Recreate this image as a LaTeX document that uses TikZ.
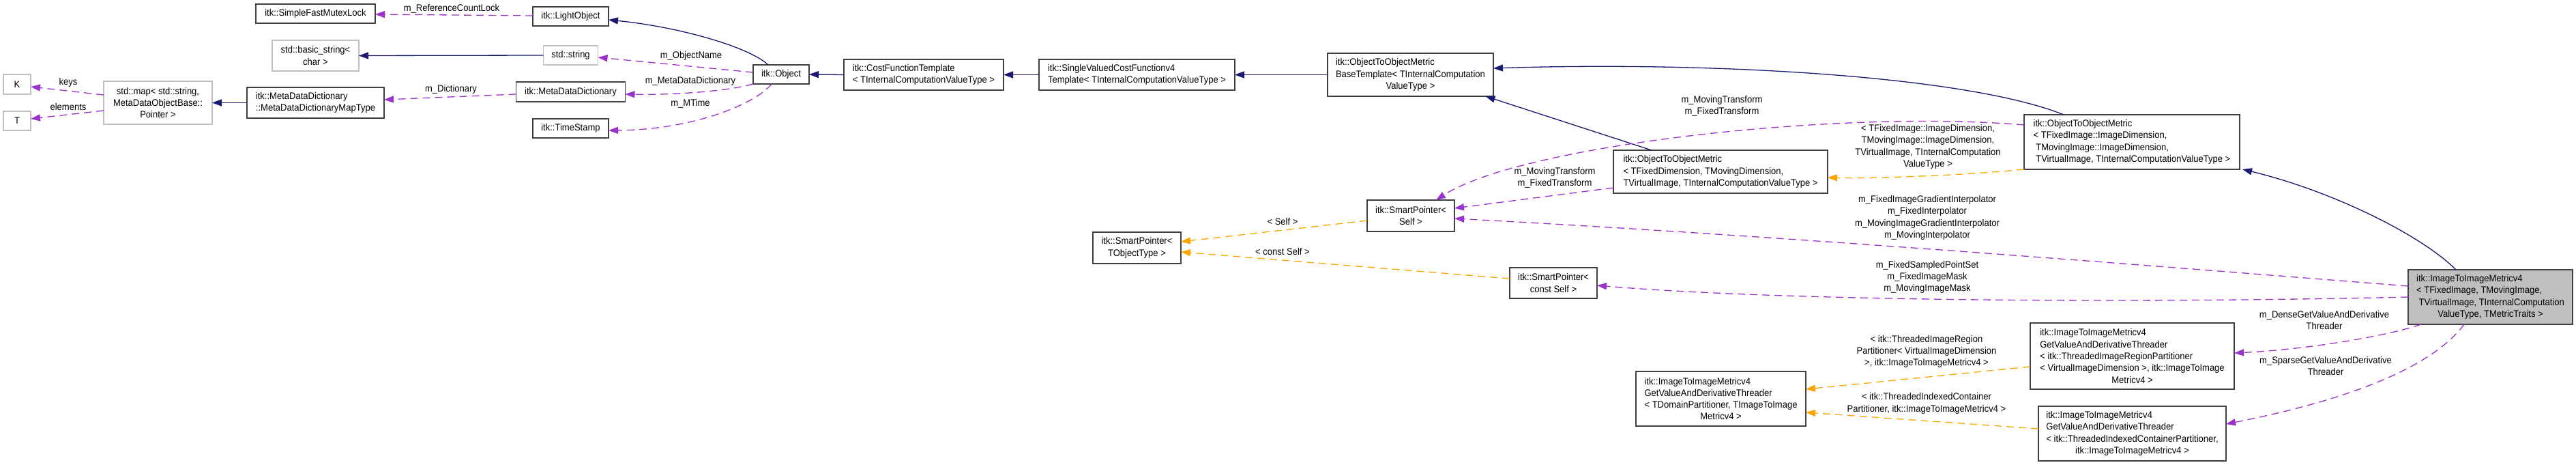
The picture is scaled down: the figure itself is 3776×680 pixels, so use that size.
\documentclass[tikz,border=0pt]{standalone}
\usepackage{fontspec}
\setmainfont{Liberation Sans}[FakeStretch=0.93]
\usetikzlibrary{arrows.meta, positioning}

\definecolor{edgeblue}{HTML}{191970}
\definecolor{edgepurple}{HTML}{9A32CD}
\definecolor{edgeorange}{HTML}{FFA500}
\definecolor{boxgray}{HTML}{BFBFBF}
\definecolor{boxline}{HTML}{404040}
\newcommand{\ctrline}[1]{\hfill#1\hfill\null}

\begin{document}
\begin{tikzpicture}[x=1pt, y=-1pt, font={\fontsize{14}{17.3}\selectfont},
    block/.style={draw=boxline, line width=1.6pt, fill=white, rectangle, inner sep=2pt, outer sep=0pt, align=left},
    extblock/.style={block, draw=boxgray},
    mainblock/.style={block, fill=boxgray},
    elabel/.style={align=center, inner sep=0pt},
    inherit/.style={draw=edgeblue, line width=1.3pt, -{Triangle[length=14pt, width=10pt]}},
    member/.style={draw=edgepurple, line width=1.3pt, dash pattern=on 11pt off 7pt, -{Triangle[length=14pt, width=10pt]}},
    tmpl/.style={member, draw=edgeorange}]

    \path[fill=white, use as bounding box] (0,0) rectangle (3776,680);

    % std containers
    \node[extblock, minimum width=40pt, minimum height=29pt, align=center] (K) at (25,123.5) {K};
    \node[extblock, minimum width=40pt, minimum height=28pt, align=center, below=25pt of K] (T) {T};
    \node[extblock, minimum width=159pt, minimum height=63pt, align=center] (stdmap) at (231.5,150.5) {std::map< std::string,\\ MetaDataObjectBase::\\ Pointer >};

    % second column
    \node[block, minimum width=175pt, minimum height=28pt] (mutexlock) at (462.5,20) {itk::SimpleFastMutexLock};
    \node[extblock, minimum width=127pt, minimum height=45pt, align=center] (basicstring) at (462.5,81.5) {std::basic\_string<\\ char >};
    \node[block, minimum width=201pt, minimum height=45pt] (maptype) at (462.5,150.5) {itk::MetaDataDictionary\\ ::MetaDataDictionaryMapType};

    % members of itk::Object
    \node[block, minimum width=111pt, minimum height=28pt] (lightobject) at (836.5,24) {itk::LightObject};
    \node[extblock, minimum width=80pt, minimum height=28pt, below=29pt of lightobject] (stdstring) {std::string};
    \node[block, minimum width=160pt, minimum height=29pt, below=25pt of stdstring] (dictionary) {itk::MetaDataDictionary};
    \node[block, minimum width=111pt, minimum height=28pt, below=25pt of dictionary] (timestamp) {itk::TimeStamp};

    % base classes
    \node[block, minimum width=82pt, minimum height=28pt] (object) at (1145,109) {itk::Object};
    \node[block, minimum width=234pt, minimum height=45pt] (costfunction) at (1354,109.5) {itk::CostFunctionTemplate\\ < TInternalComputationValueType >};
    \node[block, minimum width=287pt, minimum height=45pt] (singlevalued) at (1666.5,109.5) {itk::SingleValuedCostFunctionv4\\ Template< TInternalComputationValueType >};
    \node[block, minimum width=243pt, minimum height=63pt] (metricbase) at (2067.5,109.5) {itk::ObjectToObjectMetric\\ BaseTemplate< TInternalComputation\\ \ctrline{ValueType >}};

    % smart pointers
    \node[block, minimum width=129pt, minimum height=46pt, align=center] (ptrobject) at (1666.5,363) {itk::SmartPointer<\\ TObjectType >};
    \node[block, minimum width=128pt, minimum height=46pt, align=center] (ptrself) at (2068,316) {itk::SmartPointer<\\ Self >};
    \node[block, minimum width=128pt, minimum height=45pt, align=center] (ptrconst) at (2277,414.5) {itk::SmartPointer<\\ const Self >};

    % object to object metrics
    \node[block, minimum width=314pt, minimum height=63pt] (metricdim) at (2522,251.5) {itk::ObjectToObjectMetric\\ < TFixedDimension, TMovingDimension,\\ \ctrline{TVirtualImage, TInternalComputationValueType >}};
    \node[block, minimum width=316pt, minimum height=80pt] (metricimage) at (3125,208) {itk::ObjectToObjectMetric\\ < TFixedImage::ImageDimension,\\ \ TMovingImage::ImageDimension,\\ \ TVirtualImage, TInternalComputationValueType >};

    % threaders
    \node[block, minimum width=249pt, minimum height=80pt] (threader) at (2522.5,584) {itk::ImageToImageMetricv4\\ GetValueAndDerivativeThreader\\ < TDomainPartitioner, TImageToImage\\ \ctrline{Metricv4 >}};
    \node[block, minimum width=299pt, minimum height=97pt] (regionthreader) at (3125.5,521.5) {itk::ImageToImageMetricv4\\ GetValueAndDerivativeThreader\\ < itk::ThreadedImageRegionPartitioner\\ < VirtualImageDimension >, itk::ImageToImage\\ \ctrline{Metricv4 >}};
    \node[block, minimum width=275pt, minimum height=80pt, below=25pt of regionthreader] (indexedthreader) {itk::ImageToImageMetricv4\\ GetValueAndDerivativeThreader\\ < itk::ThreadedIndexedContainerPartitioner,\\ \ctrline{itk::ImageToImageMetricv4 >}};

    % the class itself
    \node[mainblock, minimum width=241pt, minimum height=80pt] (imagemetric) at (3650.5,435) {itk::ImageToImageMetricv4\\ < TFixedImage, TMovingImage,\\ \ TVirtualImage, TInternalComputation\\ \ctrline{ValueType, TMetricTraits >}};

    % inheritance
    \draw[inherit] (maptype.west) -- (stdmap.east);
    \draw[inherit] (stdstring.west) -- (basicstring.east);
    \draw[inherit] ([xshift=-19pt]object.north) .. controls (1100,70) and (1000,40) .. ([yshift=-5pt]lightobject.east);
    \draw[inherit] (costfunction.west) -- (object.east);
    \draw[inherit] (singlevalued.west) -- (costfunction.east);
    \draw[inherit] (metricbase.west) -- (singlevalued.east);
    \draw[inherit] ([xshift=-101pt]metricdim.north) -- ([xshift=110pt]metricbase.south);
    \draw[inherit] ([xshift=-100pt]metricimage.north) .. controls (2880,110) and (2500,90) .. ([yshift=9.5pt]metricbase.east);
    \draw[inherit] ([xshift=-50.5pt]imagemetric.north) .. controls (3550,345) and (3420,280) .. ([xshift=4pt]metricimage.south east);

    % members
    \draw[member] ([yshift=11.5pt]stdmap.west) -- ([yshift=-3.5pt]K.east) node[elabel] (lkeys) at (100,121) {keys};
    \draw[member] ([yshift=-11.5pt]stdmap.west) -- ([yshift=3pt]T.east) node[elabel] (lelements) at (100,156) {elements};
    \draw[member] ([yshift=1pt]lightobject.west) -- ([yshift=-1pt]mutexlock.east) node[elabel] (llock) at (662,13) {m\_ReferenceCountLock};
    \draw[member] ([yshift=-3.5pt]dictionary.west) -- ([yshift=4.5pt]maptype.east) node[elabel] (ldict) at (661,131) {m\_Dictionary};
    \draw[member] ([yshift=3pt]object.west) -- ([yshift=-3pt]stdstring.east) node[elabel] (lname) at (1013,82) {m\_ObjectName};
    \draw[member] (object.south west) .. controls (1060,135) and (980,139) .. ([yshift=-3.5pt]dictionary.east) node[elabel] (lmeta) at (1012,119) {m\_MetaDataDictionary};
    \draw[member] ([xshift=-14pt]object.south) .. controls (1110,150) and (1020,190) .. ([yshift=-3pt]timestamp.east) node[elabel] (lmtime) at (1012,152) {m\_MTime};
    \draw[member] ([yshift=-23.5pt]metricdim.west) -- ([yshift=11pt]ptrself.east) node[elabel] (ltrans) at (2279,260) {m\_MovingTransform\\m\_FixedTransform};
    \draw[member] ([yshift=25pt]metricimage.west) .. controls (2700,160) and (2230,212) .. ([xshift=37pt]ptrself.north) node[elabel] (ltranstwo) at (2524,155) {m\_MovingTransform\\m\_FixedTransform};
    \draw[member] ([yshift=16pt]imagemetric.west) .. controls (3064,382) and (2598,345) .. ([yshift=-4pt]ptrself.east) node[elabel] (linterp) at (2825,319) {m\_FixedImageGradientInterpolator\\m\_FixedInterpolator\\m\_MovingImageGradientInterpolator\\m\_MovingInterpolator};
    \draw[member] (imagemetric.west) .. controls (3100,445) and (2600,440) .. ([yshift=-3.5pt]ptrconst.east) node[elabel] (lmask) at (2825,406) {m\_FixedSampledPointSet\\m\_FixedImageMask\\m\_MovingImageMask};
    \draw[member] ([xshift=19pt]imagemetric.south west) .. controls (3500,492) and (3380,512) .. ([yshift=4.5pt]regionthreader.east) node[elabel] (ldense) at (3407,469) {m\_DenseGetValueAndDerivative\\Threader};
    \draw[member] ([xshift=-38.5pt]imagemetric.south) .. controls (3560,545) and (3420,590) .. ([yshift=14pt]indexedthreader.east) node[elabel] (lsparse) at (3409,536) {m\_SparseGetValueAndDerivative\\Threader};

    % template instances
    \draw[tmpl] ([yshift=-7pt]ptrself.west) -- ([yshift=9pt]ptrobject.east) node[elabel] (lself) at (1880,324) {< Self >};
    \draw[tmpl] ([yshift=6.5pt]ptrconst.west) -- ([yshift=-6pt]ptrobject.east) node[elabel] (lconst) at (1880,368) {< const Self >};
    \draw[tmpl] (metricimage.south west) .. controls (2900,255) and (2760,262) .. ([yshift=-8.5pt]metricdim.east) node[elabel] (ldims) at (2826,215) {< TFixedImage::ImageDimension,\\TMovingImage::ImageDimension,\\TVirtualImage, TInternalComputation\\ValueType >};
    \draw[tmpl] ([yshift=-15.5pt]regionthreader.west) -- ([yshift=14pt]threader.east) node[elabel] (lregion) at (2824,515) {< itk::ThreadedImageRegion\\Partitioner< VirtualImageDimension\\>, itk::ImageToImageMetricv4 >};
    \draw[tmpl] ([yshift=7pt]indexedthreader.west) -- ([yshift=-20pt]threader.east) node[elabel] (lindexed) at (2824,591) {< itk::ThreadedIndexedContainer\\Partitioner, itk::ImageToImageMetricv4 >};

\end{tikzpicture}
\end{document}
